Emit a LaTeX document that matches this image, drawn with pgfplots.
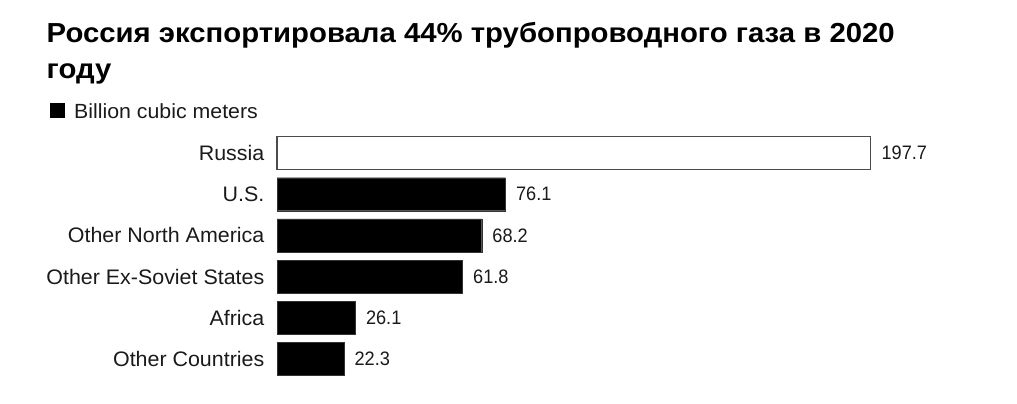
\documentclass[border=0pt]{standalone}
\usepackage{pgfplots}
\pgfplotsset{compat=1.18}
\usepackage{fontspec}
\setmainfont{Liberation Sans}
\newfontfamily\titlefont[FakeStretch=1.066]{Liberation Sans}
\newfontfamily\catfont[FakeStretch=1.02]{Liberation Sans}
\newfontfamily\legfont[FakeStretch=1.04]{Liberation Sans}
\newfontfamily\valfont[FakeStretch=0.93]{Liberation Sans}
\definecolor{txt}{HTML}{1A1A1A}
\begin{document}
\begin{tikzpicture}[x=1pt,y=1pt]
\path[use as bounding box] (0,0) rectangle (1017,404);
\node[anchor=base west,inner sep=0,text=black,font=\titlefont\fontsize{27.5}{33}\selectfont\bfseries] at (46.5,361.7) {Россия экспортировала 44\% трубопроводного газа в 2020};
\node[anchor=base west,inner sep=0,text=black,font=\titlefont\fontsize{27.5}{33}\selectfont\bfseries] at (46.5,325) {году};
\fill[black] (49.5,286) rectangle (65,301);
\node[anchor=base west,inner sep=0,text=txt,font=\legfont\fontsize{20.5}{25}\selectfont] at (74,285.8) {Billion cubic meters};
\begin{axis}[
  at={(277pt,24.4pt)}, anchor=south west,
  scale only axis, width=593.5pt, height=247.2pt,
  xmin=0, xmax=197.7, ymin=-0.5, ymax=5.5, y dir=reverse,
  axis line style={draw=none}, xtick=\empty,
  ytick={0,1,2,3,4,5},
  yticklabels={Russia,U.S.,Other North America,Other Ex-Soviet States,Africa,Other Countries},
  major tick length=0pt,
  yticklabel style={anchor=east,inner sep=0pt,xshift=-12.5pt,text=txt,font=\catfont\fontsize{21}{25}\selectfont},
  xbar, bar width=33pt, bar shift=0pt, clip=false,
  point meta=explicit symbolic,
  nodes near coords,
  nodes near coords style={anchor=west,inner sep=0pt,xshift=10.5pt,text=txt,font=\valfont\fontsize{19.5}{23}\selectfont},
]
\addplot[fill=white,draw=black!70,line width=1.2pt] coordinates {(197.7,0) [197.7]};
\addplot[fill=black,draw=black!80] coordinates {(76.1,1) [76.1] (68.2,2) [68.2] (61.8,3) [61.8] (26.1,4) [26.1] (22.3,5) [22.3]};
\end{axis}
\end{tikzpicture}
\end{document}
